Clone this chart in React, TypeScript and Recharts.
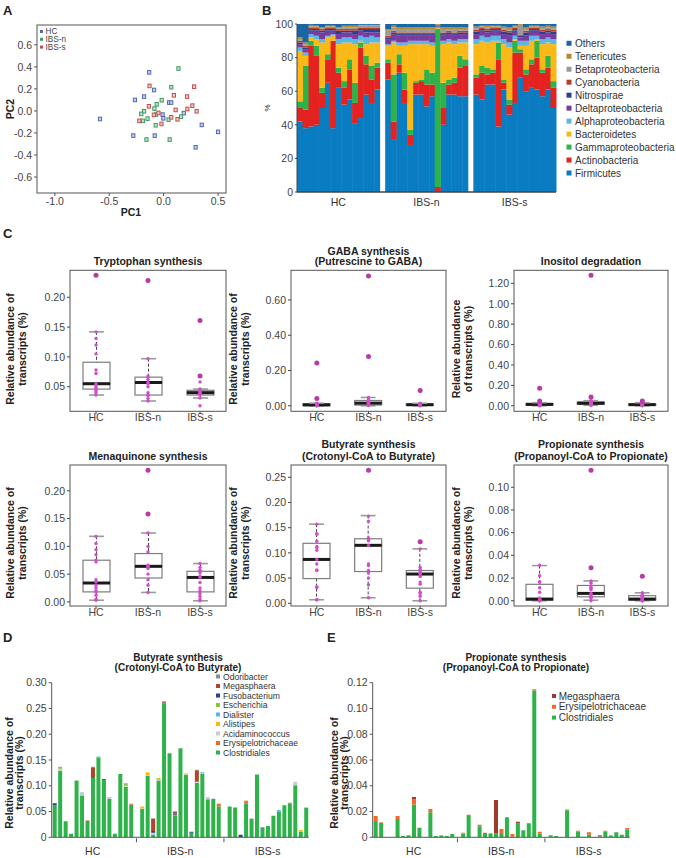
import React from 'react';
import { ScatterChart, Scatter, XAxis, YAxis, BarChart, Bar, ComposedChart } from 'recharts';

const SANS = "'Liberation Sans', Arial, Helvetica, sans-serif";
const NARROW = "'Liberation Sans Narrow', 'Arial Narrow', 'Liberation Sans', Arial, sans-serif";
const TXT = '#333333';

// ---------------- Panel A data ----------------
const pcaHC = [
  { x: -0.585, y: -0.073 }, { x: -0.133, y: 0.35 }, { x: -0.088, y: 0.19 }, { x: -0.264, y: 0.1 },
  { x: -0.18, y: 0.13 }, { x: 0.05, y: 0.076 }, { x: 0.07, y: 0.076 }, { x: -0.01, y: -0.033 },
  { x: -0.003, y: -0.067 }, { x: 0.185, y: -0.02 }, { x: 0.35, y: -0.127 }, { x: 0.5, y: -0.19 },
  { x: 0.294, y: -0.33 }, { x: -0.279, y: -0.224 }, { x: -0.082, y: -0.224 },
];
const pcaIBSn = [
  { x: 0.136, y: 0.385 }, { x: 0.07, y: 0.215 }, { x: -0.018, y: 0.097 }, { x: -0.064, y: 0.06 },
  { x: -0.085, y: 0.021 }, { x: -0.18, y: -0.003 }, { x: -0.206, y: -0.027 }, { x: -0.19, y: -0.09 },
  { x: -0.148, y: -0.07 }, { x: -0.07, y: -0.033 }, { x: -0.073, y: -0.13 }, { x: 0.045, y: -0.079 },
  { x: 0.16, y: -0.052 }, { x: -0.158, y: -0.26 }, { x: 0.055, y: -0.26 },
];
const pcaIBSs = [
  { x: -0.13, y: 0.227 }, { x: 0.28, y: 0.22 }, { x: 0.094, y: 0.142 }, { x: 0.215, y: 0.13 },
  { x: -0.136, y: 0.042 }, { x: 0.11, y: 0.009 }, { x: 0.218, y: 0.018 }, { x: 0.264, y: 0.048 },
  { x: 0.303, y: -0.003 }, { x: -0.048, y: -0.018 }, { x: -0.09, y: -0.036 }, { x: 0.07, y: -0.058 },
  { x: 0.127, y: -0.076 }, { x: -0.224, y: -0.09 }, { x: -0.02, y: -0.118 },
];
const pcaXTicks = [-1, -0.5, 0, 0.5];
const pcaYTicks = [-0.6, -0.4, -0.2, 0, 0.2, 0.4, 0.6];

// ---------------- Panel B data (15 samples per group: HC, IBS-n, IBS-s) ----------------
const groupNames = ['HC', 'IBS-n', 'IBS-s'];
const firmicutes = [42, 38, 39, 40, 50, 65, 38, 62, 52, 55, 41, 44, 58, 53, 61,
  67, 31, 71, 53, 28, 58, 58, 51, 57, 0.5, 40, 58, 58, 57, 57,
  58, 55, 64, 64, 39, 61, 46, 53, 68, 60, 62, 61, 57, 61, 50];
const actinobacteria = [8, 11, 48, 41, 9, 14, 52, 9, 10, 18, 12, 42, 18, 14, 13,
  10, 11, 5, 8, 6, 7, 8, 13, 7, 2.5, 10, 6, 7, 17, 18,
  10, 16, 6, 7, 40, 4, 6, 30, 15, 10, 14, 19, 14, 13, 12];
const gammaproteobacteria = [4, 26, 3, 6, 3, 3, 0, 3, 4, 6, 12, 3, 5, 8, 3,
  2, 28, 6, 10, 3, 1, 1, 9, 7, 94, 15, 3, 3, 7, 4,
  2, 4, 4, 2, 10, 2, 3, 7, 2, 3, 3, 10, 2, 7, 4];
const bacteroidetes = [30, 6, 2, 4, 27, 10, 3, 14, 23, 10, 23, 1, 7, 14, 12,
  8, 19, 5, 16, 51, 22, 21, 15, 16, 0.5, 23, 22, 20, 8, 10,
  18, 15, 15, 17, 1, 21, 31, 1, 2, 14, 11, 1, 15, 8, 22];
const alphaproteobacteria = [2, 2, 2, 2, 2, 1, 1, 3, 3, 3, 3, 3, 4, 4, 3,
  1, 1, 2, 2, 2, 2, 2, 2, 2, 0.5, 2, 2, 2, 2, 2,
  3, 3, 3, 3, 3, 3, 3, 2, 3, 3, 3, 2, 3, 3, 3];
const deltaproteobacteria = [2, 2, 2, 3, 4, 3, 2, 3, 3, 3, 3, 3, 3, 2, 3,
  3, 4, 4, 4, 3, 3, 3, 3, 4, 0.5, 3, 3, 3, 3, 3,
  3, 3, 3, 3, 3, 3, 4, 3, 2, 3, 3, 3, 3, 3, 3];
const nitrospirae = [1, 1, 1, 1, 1, 1, 1, 2, 1, 1, 2, 1, 2, 2, 2,
  1, 1, 1, 1, 1, 1, 1, 1, 1, 0.5, 1, 1, 1, 1, 1,
  1.5, 1, 1, 1, 1, 1.5, 2, 1, 1, 2, 1, 1, 1.5, 1, 1.5];
const cyanobacteria = [1, 1, 1, 1, 1, 1, 1, 1, 1, 1, 1, 1, 1, 1, 1,
  1, 1, 1, 1, 1, 1, 1, 1, 1, 0.5, 1, 1, 1, 1, 1,
  1, 1, 1, 1, 1, 1, 1, 1, 0.5, 1, 1, 1, 1, 1, 1];
const betaproteobacteria = [1, 1, 0.5, 0.5, 0.5, 0.5, 0.5, 0.5, 1, 1, 1, 1, 1, 1, 1,
  3, 2, 2, 2, 2, 2, 2, 2, 2, 0, 2, 1, 2, 1, 1,
  1, 0.5, 1, 0.5, 0.5, 1, 1, 0.5, 6, 1, 0.5, 0.5, 1, 1, 1];
const tenericutes = [1, 1, 1, 0.5, 0.5, 0.5, 0.5, 0.5, 1, 1, 1, 0.5, 0.5, 0.5, 0.5,
  1, 1, 1, 1, 1, 1, 1, 1, 1, 0.5, 1, 1, 1, 1, 1,
  1, 0.5, 1, 0.5, 0.5, 1, 1, 0.5, 0.5, 1, 0.5, 0.5, 1, 1, 1];
const others = [8, 11, 0.5, 1, 2, 1, 1, 2, 1, 1, 1, 0.5, 0.5, 0.5, 0.5,
  3, 1, 2, 2, 2, 2, 2, 2, 2, 0, 2, 2, 2, 2, 2,
  1.5, 1, 1, 1, 1, 1.5, 2, 1, 0, 2, 1, 1, 1.5, 1, 1.5];
const phylaTicks = [0, 20, 40, 60, 80, 100];

const bSeries = [
  { key: 'Firmicutes', vals: firmicutes, color: '#0a7cc1' },
  { key: 'Actinobacteria', vals: actinobacteria, color: '#e42320' },
  { key: 'Gammaproteobacteria', vals: gammaproteobacteria, color: '#2db34a' },
  { key: 'Bacteroidetes', vals: bacteroidetes, color: '#fbb917' },
  { key: 'Alphaproteobacteria', vals: alphaproteobacteria, color: '#5cb6e6' },
  { key: 'Deltaproteobacteria', vals: deltaproteobacteria, color: '#7b3a9e' },
  { key: 'Nitrospirae', vals: nitrospirae, color: '#2b3f8c' },
  { key: 'Cyanobacteria', vals: cyanobacteria, color: '#b8402a' },
  { key: 'Betaproteobacteria', vals: betaproteobacteria, color: '#9a9a9a' },
  { key: 'Tenericutes', vals: tenericutes, color: '#b08a3a' },
  { key: 'Others', vals: others, color: '#1a66a3' },
];

// ---------------- Panel C data ----------------
// box: [lower whisker, Q1, median, Q3, upper whisker]
const tryptophanBox = [[0.036, 0.046, 0.055, 0.091, 0.142], [0.026, 0.036, 0.057, 0.066, 0.097], [0.031, 0.036, 0.040, 0.044, 0.046]];
const tryptophanPts = [[0.142, 0.131, 0.12, 0.105, 0.078, 0.072, 0.055, 0.053, 0.05, 0.047, 0.045, 0.043, 0.04, 0.036],
  [0.097, 0.068, 0.066, 0.062, 0.057, 0.055, 0.05, 0.04, 0.036, 0.035, 0.03, 0.026],
  [0.046, 0.044, 0.042, 0.041, 0.04, 0.039, 0.038, 0.036, 0.031, 0.058, 0.018]];
const tryptophanOut = [[0.237], [0.228], [0.161, 0.068]];

const gabaBox = [[0, 0.001, 0.005, 0.012, 0.015], [0, 0.004, 0.015, 0.03, 0.047], [0, 0.002, 0.006, 0.01, 0.014]];
const gabaPts = [[0.015, 0.012, 0.01, 0.008, 0.006, 0.005, 0.004, 0.003, 0.002, 0.001, 0.001, 0, 0],
  [0.047, 0.035, 0.03, 0.025, 0.02, 0.018, 0.015, 0.012, 0.01, 0.008, 0.005, 0.003, 0.001],
  [0.014, 0.012, 0.01, 0.009, 0.007, 0.006, 0.005, 0.004, 0.003, 0.002, 0.001, 0]];
const gabaOut = [[0.243, 0.041], [0.736, 0.279], [0.087]];

const inositolBox = [[0, 0.005, 0.014, 0.022, 0.03], [0.005, 0.015, 0.025, 0.038, 0.05], [0, 0.005, 0.011, 0.018, 0.03]];
const inositolPts = [[0.03, 0.025, 0.022, 0.018, 0.015, 0.014, 0.012, 0.01, 0.008, 0.005, 0.003, 0.001],
  [0.05, 0.045, 0.038, 0.032, 0.028, 0.025, 0.022, 0.02, 0.015, 0.012, 0.008, 0.005],
  [0.03, 0.022, 0.018, 0.015, 0.012, 0.011, 0.01, 0.008, 0.006, 0.005, 0.003, 0.001]];
const inositolOut = [[0.172, 0.046], [1.28, 0.086], [0.046]];

const menaquinoneBox = [[0.003, 0.018, 0.034, 0.075, 0.118], [0.017, 0.043, 0.064, 0.087, 0.124], [0.002, 0.018, 0.044, 0.055, 0.069]];
const menaquinonePts = [[0.118, 0.105, 0.094, 0.085, 0.075, 0.072, 0.04, 0.036, 0.03, 0.025, 0.02, 0.018, 0.012, 0.005, 0.003],
  [0.124, 0.1, 0.09, 0.066, 0.064, 0.063, 0.06, 0.05, 0.04, 0.03, 0.017],
  [0.069, 0.062, 0.057, 0.052, 0.046, 0.044, 0.035, 0.025, 0.02, 0.015, 0.01, 0.005, 0.002]];
const menaquinoneOut = [[], [0.237, 0.158], []];

const butyrateBox = [[0.007, 0.049, 0.087, 0.119, 0.157], [0.011, 0.063, 0.115, 0.128, 0.174], [0.005, 0.03, 0.058, 0.065, 0.108]];
const butyratePts = [[0.066, 0.138, 0.031, 0.007, 0.11, 0.087, 0.033, 0.137, 0.157, 0.113, 0.078, 0.007, 0.123, 0.105, 0.065],
  [0.06, 0.126, 0.037, 0.115, 0.163, 0.05, 0.173, 0.124, 0.011, 0.13, 0.126, 0.078, 0.075, 0.065],
  [0.06, 0.059, 0.005, 0.071, 0.038, 0.019, 0.022, 0.042, 0.053, 0.062, 0.067, 0.108, 0.014, 0.059]];
const butyrateOut = [[], [0.264], [0.122]];

const propionateBox = [[0, 0.0005, 0.0015, 0.0145, 0.031], [0.0005, 0.0035, 0.0065, 0.0135, 0.0175], [0, 0.0005, 0.0015, 0.0045, 0.007]];
const propionatePts = [[0.0166, 0.0115, 0, 0, 0.0165, 0.001, 0.0015, 0.0313, 0.0075, 0, 0.022, 0.001, 0.0015, 0.001, 0.0025],
  [0.0035, 0.0175, 0, 0.0097, 0.0035, 0.0032, 0.0065, 0.0155, 0.0025, 0.012, 0.0055, 0.011, 0.0043],
  [0.0015, 0.001, 0, 0, 0.005, 0.0005, 0.004, 0, 0.0018, 0.005, 0.0015, 0.004, 0.002, 0.0072]];
const propionateOut = [[], [0.115, 0.029], [0.0215]];

// ---------------- Panel D data ----------------
const dClostridiales = [0.062, 0.129, 0.031, 0.007, 0.11, 0.081, 0.032, 0.115, 0.155, 0.111, 0.075, 0.007, 0.123, 0.098, 0.063,
  0.055, 0.119, 0.005, 0.11, 0.26, 0.163, 0.043, 0.173, 0.121, 0.009, 0.106, 0.123, 0.074, 0.075, 0.06,
  0.06, 0.058, 0, 0.065, 0.036, 0.122, 0.017, 0.022, 0.042, 0.05, 0.062, 0.066, 0.101, 0.011, 0.057];
const dErysipelotrichaceae = [0, 0, 0, 0, 0, 0, 0.001, 0, 0, 0, 0, 0, 0, 0, 0.002,
  0, 0, 0, 0, 0, 0, 0, 0, 0, 0, 0, 0, 0, 0, 0.005,
  0, 0, 0, 0.005, 0, 0, 0, 0, 0, 0, 0, 0.001, 0, 0, 0];
const dAcidaminococcus = [0, 0.004, 0, 0, 0, 0.004, 0, 0, 0, 0, 0.002, 0, 0, 0.002, 0,
  0.001, 0.001, 0.002, 0.001, 0, 0, 0, 0, 0.001, 0, 0.002, 0.002, 0.004, 0, 0,
  0, 0, 0, 0, 0.002, 0, 0, 0, 0, 0, 0, 0, 0.007, 0, 0.001];
const dAlistipes = [0, 0, 0, 0, 0, 0, 0, 0, 0, 0, 0, 0, 0, 0, 0,
  0.004, 0.006, 0.002, 0.004, 0, 0, 0, 0, 0.002, 0, 0, 0, 0, 0, 0,
  0, 0.001, 0, 0, 0, 0, 0, 0, 0, 0, 0, 0, 0, 0.003, 0.001];
const dDialister = [0, 0, 0, 0, 0, 0.002, 0, 0, 0.002, 0, 0.001, 0, 0, 0, 0,
  0, 0, 0, 0, 0, 0, 0.001, 0, 0, 0, 0, 0.001, 0, 0, 0,
  0, 0, 0, 0, 0, 0, 0, 0, 0, 0.003, 0, 0, 0, 0, 0];
const dEscherichia = [0, 0.004, 0, 0, 0, 0, 0, 0, 0, 0, 0, 0, 0, 0.005, 0,
  0, 0, 0, 0, 0, 0, 0, 0, 0, 0, 0, 0, 0, 0, 0,
  0, 0, 0, 0, 0, 0, 0, 0, 0, 0, 0, 0, 0, 0, 0];
const dFusobacterium = [0.004, 0, 0, 0, 0, 0, 0, 0, 0, 0, 0, 0, 0, 0, 0,
  0, 0, 0.003, 0, 0, 0, 0.002, 0, 0, 0.002, 0, 0, 0, 0, 0,
  0, 0, 0.005, 0, 0, 0, 0.002, 0, 0, 0, 0, 0, 0, 0, 0];
const dMegasphaera = [0, 0, 0, 0, 0, 0, 0, 0.021, 0, 0.002, 0, 0, 0, 0, 0,
  0, 0, 0.024, 0, 0.002, 0, 0.004, 0, 0, 0, 0.022, 0, 0, 0, 0,
  0, 0, 0, 0.001, 0, 0, 0, 0, 0, 0, 0, 0, 0, 0, 0];
const dOdoribacter = [0, 0, 0, 0, 0, 0, 0, 0.001, 0, 0, 0, 0, 0, 0, 0,
  0, 0, 0.001, 0, 0.002, 0, 0, 0, 0, 0, 0.001, 0, 0, 0, 0,
  0, 0, 0, 0, 0, 0, 0, 0, 0, 0, 0, 0, 0, 0, 0];
const dTicks = [0, 0.05, 0.1, 0.15, 0.2, 0.25, 0.3];

const dSeries = [
  { key: 'Clostridiales', vals: dClostridiales, color: '#2db34a' },
  { key: 'Erysipelotrichaceae', vals: dErysipelotrichaceae, color: '#f26a21' },
  { key: 'Acidaminococcus', vals: dAcidaminococcus, color: '#c9cad6' },
  { key: 'Alistipes', vals: dAlistipes, color: '#fbb812' },
  { key: 'Dialister', vals: dDialister, color: '#5ab4e5' },
  { key: 'Escherichia', vals: dEscherichia, color: '#8cc63e' },
  { key: 'Fusobacterium', vals: dFusobacterium, color: '#25418f' },
  { key: 'Megasphaera', vals: dMegasphaera, color: '#b3432b' },
  { key: 'Odoribacter', vals: dOdoribacter, color: '#8c8c8c' },
];

// ---------------- Panel E data ----------------
const eClostridiales = [0.0118, 0.0112, 0, 0, 0.0142, 0.001, 0.0015, 0.0255, 0.0072, 0, 0.0195, 0.001, 0.0012, 0.001, 0.0025,
  0.003, 0.0165, 0, 0.0085, 0.0033, 0.003, 0.003, 0.0025, 0.0155, 0.0005, 0.011, 0.0055, 0.011, 0.114, 0.003,
  0.0015, 0.001, 0, 0.021, 0, 0.0045, 0.0005, 0.002, 0, 0.0008, 0.0045, 0.0012, 0.004, 0.002, 0.006];
const eErysipelotrichaceae = [0.0048, 0.0005, 0, 0, 0.0023, 0, 0, 0.004, 0.0003, 0, 0.0025, 0, 0.0003, 0, 0,
  0.0005, 0.001, 0, 0.0012, 0.0002, 0.0002, 0, 0.004, 0, 0.002, 0, 0, 0, 0.001, 0.0013,
  0, 0, 0, 0.0005, 0, 0.0005, 0, 0.002, 0, 0.001, 0.0005, 0.0003, 0, 0, 0.0012];
const eMegasphaera = [0, 0, 0, 0, 0, 0, 0, 0.0018, 0, 0, 0, 0, 0, 0, 0,
  0, 0, 0, 0, 0, 0, 0.026, 0, 0, 0, 0.001, 0, 0, 0, 0,
  0, 0, 0, 0, 0, 0, 0, 0, 0, 0, 0, 0, 0, 0, 0];
const eTicks = [0, 0.02, 0.04, 0.06, 0.08, 0.1, 0.12];

const eSeries = [
  { key: 'Clostridiales', vals: eClostridiales, color: '#2db34a' },
  { key: 'Erysipelotrichaceae', vals: eErysipelotrichaceae, color: '#f26a21' },
  { key: 'Megasphaera', vals: eMegasphaera, color: '#9e3b2b' },
];

// ---------------- helpers ----------------
function buildRows(series: { key: string; vals: number[] }[]) {
  const rows: any[] = [];
  let i = 0;
  for (let g = 0; g < 3; g++) {
    for (let k = 0; k < 15; k++) {
      const r: any = { i };
      series.forEach((s) => { r[s.key] = s.vals[g * 15 + k]; });
      rows.push(r);
      i++;
    }
    if (g < 2) { rows.push({ i }); i++; }
  }
  return rows;
}

const makeGroupTick = (labelDy: number, gapTicks: boolean) => (p: any) => {
  const v = p.payload.value;
  const idx = [7, 23, 39].indexOf(v);
  if (idx >= 0) {
    return (
      <text x={p.x} y={p.y + labelDy} textAnchor="middle" fontSize={10.5} fill={TXT} fontFamily={SANS}>
        {groupNames[idx]}
      </text>
    );
  }
  if (gapTicks && (v === 15 || v === 31)) {
    return <line x1={p.x} x2={p.x} y1={p.y + 1} y2={p.y + 5} stroke="#555" strokeWidth={1} />;
  }
  return <g />;
};

const squareShape = (color: string, tint: string) => (p: any) => (
  <rect x={p.cx - 1.6} y={p.cy - 1.8} width={3.2} height={3.6} fill={tint} stroke={color} strokeWidth={1} />
);

// ---------------- Panel A ----------------
function PanelA() {
  const tickStyle = { fontSize: 10.5, fill: '#444', fontFamily: SANS };
  return (
    <div style={{ position: 'absolute', left: 0, top: 0 }}>
      <ScatterChart width={232} height={222} margin={{ top: 25, right: 6, bottom: 0, left: 0 }}>
        <XAxis type="number" dataKey="x" domain={[-1.164, 0.573]} ticks={pcaXTicks} allowDataOverflow
          tickFormatter={(v: number) => v.toFixed(1)} axisLine={false} tickLine={{ stroke: '#555' }} tickSize={3}
          tickMargin={2} height={29} tick={tickStyle} />
        <YAxis type="number" dataKey="y" domain={[-0.745, 0.78]} ticks={pcaYTicks} allowDataOverflow
          tickFormatter={(v: number) => v.toFixed(1)} axisLine={false} tickLine={{ stroke: '#555' }} tickSize={3}
          tickMargin={2} width={37} tick={tickStyle} />
        <Scatter data={pcaHC} shape={squareShape('#5368b3', '#c9d0ea')} isAnimationActive={false} />
        <Scatter data={pcaIBSn} shape={squareShape('#3f9a5f', '#c4e2cd')} isAnimationActive={false} />
        <Scatter data={pcaIBSs} shape={squareShape('#c0504d', '#efc9c8')} isAnimationActive={false} />
      </ScatterChart>
    </div>
  );
}

// ---------------- Panel B ----------------
const bRows = buildRows(bSeries);
function PanelB() {
  return (
    <div style={{ position: 'absolute', left: 262, top: 0 }}>
      <BarChart width={298} height={215} data={bRows} margin={{ top: 24, right: 4, bottom: 0, left: 0 }}
        barCategoryGap={0} barGap={0}>
        <XAxis dataKey="i" type="category" interval={0} tick={makeGroupTick(14, false)} tickLine={false}
          tickSize={0} tickMargin={0} height={23} axisLine={{ stroke: '#444', strokeWidth: 1.5 }} />
        <YAxis type="number" domain={[0, 100]} ticks={phylaTicks} allowDataOverflow width={35} tickSize={2}
          tickMargin={2} axisLine={{ stroke: '#444' }} tickLine={{ stroke: '#444' }}
          tick={{ fontSize: 10.5, fill: '#444', fontFamily: SANS }} />
        {bSeries.map((s) => (
          <Bar key={s.key} dataKey={s.key} stackId="b" fill={s.color} isAnimationActive={false} />
        ))}
      </BarChart>
    </div>
  );
}

// ---------------- Panel C (box plots) ----------------
const cGroups = ['HC', 'IBS-n', 'IBS-s'];
const CAP = 0.55;
const WhiskerLow = (p: any) => {
  const cx = p.x + p.width / 2;
  const y0 = Math.min(p.y, p.y + p.height);
  const y1 = Math.max(p.y, p.y + p.height);
  return (
    <g>
      <line x1={cx} x2={cx} y1={y0} y2={y1} stroke="#444" strokeDasharray="3 2" strokeWidth={1} />
      <line x1={cx - (p.width * CAP) / 2} x2={cx + (p.width * CAP) / 2} y1={y1} y2={y1} stroke="#9a9a9a" strokeWidth={1.6} />
    </g>
  );
};
const WhiskerHigh = (p: any) => {
  const cx = p.x + p.width / 2;
  const y0 = Math.min(p.y, p.y + p.height);
  const y1 = Math.max(p.y, p.y + p.height);
  return (
    <g>
      <line x1={cx} x2={cx} y1={y0} y2={y1} stroke="#444" strokeDasharray="3 2" strokeWidth={1} />
      <line x1={cx - (p.width * CAP) / 2} x2={cx + (p.width * CAP) / 2} y1={y0} y2={y0} stroke="#9a9a9a" strokeWidth={1.6} />
    </g>
  );
};
const BoxLow = (p: any) => {
  const y0 = Math.min(p.y, p.y + p.height);
  const h = Math.abs(p.height);
  return <rect x={p.x} y={y0} width={p.width} height={h} fill="#fff" stroke="#7d7d7d" strokeWidth={1.2} />;
};
const BoxHigh = (p: any) => {
  const y0 = Math.min(p.y, p.y + p.height);
  const y1 = Math.max(p.y, p.y + p.height);
  return (
    <g>
      <rect x={p.x} y={y0} width={p.width} height={y1 - y0} fill="#fff" stroke="#7d7d7d" strokeWidth={1.2} />
      <line x1={p.x} x2={p.x + p.width} y1={y1} y2={y1} stroke="#1a1a1a" strokeWidth={3} />
    </g>
  );
};
const dotShape = (p: any) => <circle cx={p.cx} cy={p.cy} r={1.7} fill="#d24ccb" />;
const outShape = (p: any) => <circle cx={p.cx} cy={p.cy} r={2.5} fill="#b83aa8" />;

function BoxPanel({ pl, pr, pt, ph, domain, ticks, box, pts, out }: any) {
  const YW = 38;
  const MT = 5;
  const XH = 20;
  const left = pl - YW;
  const width = pr - left + 2;
  const height = MT + ph + XH;
  const rows = cGroups.map((g, k) => ({
    g,
    base: box[k][0],
    wl: box[k][1] - box[k][0],
    bl: box[k][2] - box[k][1],
    bu: box[k][3] - box[k][2],
    wu: box[k][4] - box[k][3],
  }));
  const ptData = cGroups.flatMap((g, k) => pts[k].map((v: number) => ({ g, v })));
  const outData = cGroups.flatMap((g, k) => out[k].map((v: number) => ({ g, v })));
  const tickStyle = { fontSize: 10.5, fill: '#444', fontFamily: NARROW };
  return (
    <div style={{ position: 'absolute', left, top: pt - MT }}>
      <ComposedChart width={width} height={height} data={rows} margin={{ top: MT, right: 2, bottom: 0, left: 0 }} barSize={27}>
        <XAxis dataKey="g" type="category" allowDuplicatedCategory={false} axisLine={false} tickLine={{ stroke: '#444' }}
          tickSize={3} tickMargin={0} height={XH} interval={0} tick={tickStyle} />
        <YAxis type="number" domain={domain} ticks={ticks} allowDataOverflow width={YW} axisLine={false}
          tickLine={{ stroke: '#444' }} tickSize={3} tickMargin={2} tickFormatter={(v: number) => v.toFixed(2)} tick={tickStyle} />
        <Bar dataKey="base" stackId="s" fill="none" isAnimationActive={false} />
        <Bar dataKey="wl" stackId="s" shape={WhiskerLow} isAnimationActive={false} />
        <Bar dataKey="bl" stackId="s" shape={BoxLow} isAnimationActive={false} />
        <Bar dataKey="bu" stackId="s" shape={BoxHigh} isAnimationActive={false} />
        <Bar dataKey="wu" stackId="s" shape={WhiskerHigh} isAnimationActive={false} />
        <Scatter data={ptData} dataKey="v" shape={dotShape} isAnimationActive={false} />
        <Scatter data={outData} dataKey="v" shape={outShape} isAnimationActive={false} />
      </ComposedChart>
    </div>
  );
}

const PL = [70, 291, 514];
const PR = [226, 446, 668];
const PT = [270.3, 465];
const PH = 141;

const boxPanels = [
  { c: 0, r: 0, domain: [0.0092, 0.2458], ticks: [0.05, 0.1, 0.15, 0.2], box: tryptophanBox, pts: tryptophanPts, out: tryptophanOut },
  { c: 1, r: 0, domain: [-0.0296, 0.7696], ticks: [0, 0.2, 0.4, 0.6], box: gabaBox, pts: gabaPts, out: gabaOut },
  { c: 2, r: 0, domain: [-0.0512, 1.3312], ticks: [0, 0.2, 0.4, 0.6, 0.8, 1.0, 1.2], box: inositolBox, pts: inositolPts, out: inositolOut },
  { c: 0, r: 1, domain: [-0.0074, 0.2464], ticks: [0, 0.05, 0.1, 0.15, 0.2], box: menaquinoneBox, pts: menaquinonePts, out: menaquinoneOut },
  { c: 1, r: 1, domain: [-0.0054, 0.2744], ticks: [0, 0.05, 0.1, 0.15, 0.2, 0.25], box: butyrateBox, pts: butyratePts, out: butyrateOut },
  { c: 2, r: 1, domain: [-0.0046, 0.1196], ticks: [0, 0.02, 0.04, 0.06, 0.08, 0.1], box: propionateBox, pts: propionatePts, out: propionateOut },
];

// ---------------- Panels D / E ----------------
const dRows = buildRows(dSeries);
const eRows = buildRows(eSeries);

function StackPanel({ left, width, yw, rows, series, domain, ticks }: any) {
  return (
    <div style={{ position: 'absolute', left, top: 675 }}>
      <BarChart width={width} height={182} data={rows} margin={{ top: 7.7, right: 3.3, bottom: 0, left: 0 }} barSize={4}>
        <XAxis dataKey="i" type="category" interval={0} tick={makeGroupTick(18, true)} tickLine={false}
          tickSize={0} tickMargin={0} height={19.7} axisLine={{ stroke: '#555' }} />
        <YAxis type="number" domain={domain} ticks={ticks} allowDataOverflow width={yw} tickSize={3} tickMargin={2}
          axisLine={{ stroke: '#555' }} tickLine={{ stroke: '#555' }}
          tickFormatter={(v: number) => (v === 0 ? '0' : v.toFixed(2))}
          tick={{ fontSize: 10.5, fill: '#444', fontFamily: SANS }} />
        {series.map((s: any) => (
          <Bar key={s.key} dataKey={s.key} stackId="d" fill={s.color} isAnimationActive={false} />
        ))}
      </BarChart>
    </div>
  );
}

// ---------------- overlay texts ----------------
function VText({ x, y, children, size = 10.5, family = SANS, weight = 'bold' }: any) {
  return (
    <text x={x} y={y} transform={`rotate(-90 ${x} ${y})`} textAnchor="middle" fontSize={size}
      fontWeight={weight} fontFamily={family} fill="#222">{children}</text>
  );
}

function Overlay() {
  const bLegend = [...bSeries].reverse();
  const dLegend = [...dSeries].reverse();
  const eLegend = [...eSeries].reverse();
  const cTitle = (x: number, y: number, s: string) => (
    <text x={x} y={y} textAnchor="middle" fontSize={10.5} fontWeight="bold" fontFamily={NARROW} fill="#222">{s}</text>
  );
  const cx = (c: number) => (PL[c] + PR[c]) / 2;
  return (
    <svg width={676} height={858} style={{ position: 'absolute', left: 0, top: 0, pointerEvents: 'none' }}>
      {/* panel letters */}
      <text x={3} y={15} fontSize={13} fontWeight="bold" fontFamily={SANS} fill="#222">A</text>
      <text x={262} y={15} fontSize={13} fontWeight="bold" fontFamily={SANS} fill="#222">B</text>
      <text x={3} y={238} fontSize={13} fontWeight="bold" fontFamily={SANS} fill="#222">C</text>
      <text x={3} y={642} fontSize={13} fontWeight="bold" fontFamily={SANS} fill="#222">D</text>
      <text x={327} y={642} fontSize={13} fontWeight="bold" fontFamily={SANS} fill="#222">E</text>

      {/* Panel A frame, labels, legend */}
      <rect x={37} y={25} width={189} height={168} fill="none" stroke="#555" strokeWidth={1} />
      <text x={131} y={216} textAnchor="middle" fontSize={10.5} fontWeight="bold" fontFamily={SANS} fill="#222">PC1</text>
      <VText x={14} y={109}>PC2</VText>
      {[{ n: 'HC', c: '#5368b3' }, { n: 'IBS-n', c: '#3f9a5f' }, { n: 'IBS-s', c: '#c0504d' }].map((e, k) => (
        <g key={e.n}>
          <rect x={40} y={30 + k * 7.8} width={3} height={3} fill={e.c} />
          <text x={45.5} y={34.2 + k * 7.8} fontSize={8.2} fontFamily={SANS} fill="#444">{e.n}</text>
        </g>
      ))}

      {/* Panel B labels & legend */}
      <VText x={270} y={108} size={8} weight="normal">%</VText>
      {bLegend.map((s, k) => (
        <g key={s.key}>
          <rect x={566.5} y={40.8 + k * 12.97} width={5} height={5} fill={s.color} />
          <text x={575} y={46.8 + k * 12.97} fontSize={10} fontFamily={SANS} fill={TXT}>{s.key}</text>
        </g>
      ))}

      {/* Panel C frames */}
      {[0, 1].map((r) => [0, 1, 2].map((c) => (
        <rect key={`f${r}${c}`} x={PL[c]} y={PT[r]} width={PR[c] - PL[c]} height={PH} fill="none" stroke="#555" strokeWidth={1} />
      )))}
      {/* Panel C titles */}
      {cTitle(cx(0), 265, 'Tryptophan synthesis')}
      {cTitle(cx(1), 254.5, 'GABA synthesis')}
      {cTitle(cx(1), 265, '(Putrescine to GABA)')}
      {cTitle(cx(2), 265, 'Inositol degradation')}
      {cTitle(cx(0), 459.5, 'Menaquinone synthesis')}
      {cTitle(cx(1), 448, 'Butyrate synthesis')}
      {cTitle(cx(1), 459.5, '(Crotonyl-CoA to Butyrate)')}
      {cTitle(cx(2), 448, 'Propionate synthesis')}
      {cTitle(cx(2), 459.5, '(Propanoyl-CoA to Propionate)')}
      {/* Panel C y titles */}
      <VText x={14} y={349} family={NARROW}>Relative abundance of</VText>
      <VText x={26} y={349} family={NARROW}>transcripts (%)</VText>
      <VText x={237} y={349} family={NARROW}>Relative abundance of</VText>
      <VText x={249} y={349} family={NARROW}>transcripts (%)</VText>
      <VText x={460} y={349} family={NARROW}>Relative abundance</VText>
      <VText x={472} y={349} family={NARROW}>of transcripts (%)</VText>
      <VText x={14} y={543} family={NARROW}>Relative abundance of</VText>
      <VText x={26} y={543} family={NARROW}>transcripts (%)</VText>
      <VText x={237} y={543} family={NARROW}>Relative abundance of</VText>
      <VText x={249} y={543} family={NARROW}>transcripts (%)</VText>
      <VText x={460} y={543} family={NARROW}>Relative abundance of</VText>
      <VText x={472} y={543} family={NARROW}>transcripts (%)</VText>

      {/* Panel D */}
      <text x={178} y={661} textAnchor="middle" fontSize={10} fontWeight="bold" fontFamily={SANS} fill="#222">Butyrate synthesis</text>
      <text x={178} y={671} textAnchor="middle" fontSize={10} fontWeight="bold" fontFamily={SANS} fill="#222">(Crotonyl-CoA to Butyrate)</text>
      <VText x={12.5} y={773}>Relative abundance of</VText>
      <VText x={23} y={773}>transcripts (%)</VText>
      {dLegend.map((s, k) => (
        <g key={s.key}>
          <rect x={216} y={674.5 + k * 9.5} width={4} height={4} fill={s.color} />
          <text x={223} y={679.6 + k * 9.5} fontSize={8.6} fontFamily={SANS} fill={TXT}>{s.key}</text>
        </g>
      ))}

      {/* Panel E */}
      <text x={516} y={661} textAnchor="middle" fontSize={10} fontWeight="bold" fontFamily={SANS} fill="#222">Propionate synthesis</text>
      <text x={516} y={671} textAnchor="middle" fontSize={10} fontWeight="bold" fontFamily={SANS} fill="#222">(Propanoyl-CoA to Propionate)</text>
      <VText x={337.5} y={773}>Relative abundance of</VText>
      <VText x={348} y={773}>transcripts (%)</VText>
      {eLegend.map((s, k) => (
        <g key={s.key}>
          <rect x={552} y={694 + k * 10.8} width={4} height={4} fill={s.color} />
          <text x={558.7} y={699.6 + k * 10.8} fontSize={10} fontFamily={SANS} fill={TXT}>{s.key}</text>
        </g>
      ))}
    </svg>
  );
}

export default function App() {
  return (
    <div style={{ position: 'absolute', left: 0, top: 0, width: 676, height: 858, background: '#fff', overflow: 'hidden' }}>
      <PanelA />
      <PanelB />
      {boxPanels.map((b, k) => (
        <BoxPanel key={k} pl={PL[b.c]} pr={PR[b.c]} pt={PT[b.r]} ph={PH} domain={b.domain} ticks={b.ticks}
          box={b.box} pts={b.pts} out={b.out} />
      ))}
      <StackPanel left={0} width={312} yw={51.7} rows={dRows} series={dSeries} domain={[0, 0.3]} ticks={dTicks} />
      <StackPanel left={330} width={303} yw={42.7} rows={eRows} series={eSeries} domain={[0, 0.12]} ticks={eTicks} />
      <Overlay />
    </div>
  );
}
